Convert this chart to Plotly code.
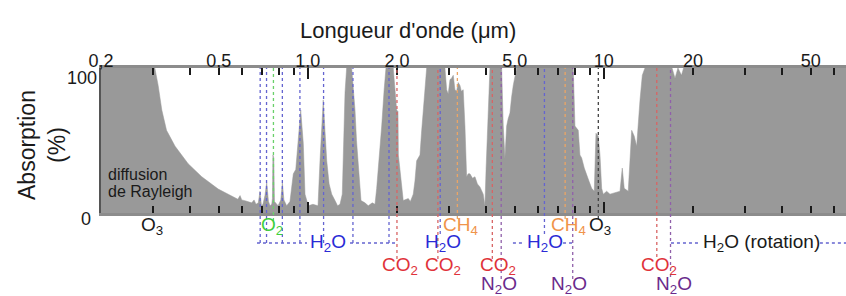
import math
import plotly.graph_objects as go

# ---------------- data ----------------
wavelength_um = [
    0.2, 0.304, 0.312, 0.321, 0.333, 0.356, 0.394, 0.438, 0.498, 0.567, 0.58, 0.59, 0.598,
    0.613, 0.63, 0.646, 0.658, 0.668, 0.68, 0.689, 0.697, 0.705, 0.716, 0.726, 0.736, 0.745,
    0.755, 0.759, 0.762, 0.767, 0.771, 0.793, 0.81, 0.82, 0.83, 0.848, 0.87, 0.893, 0.91,
    0.928, 0.946, 0.955, 0.965, 0.978, 1.003, 1.04, 1.082, 1.099, 1.115, 1.127, 1.14, 1.158,
    1.18, 1.204, 1.235, 1.26, 1.284, 1.307, 1.335, 1.352, 1.406, 1.425, 1.443, 1.46, 1.48,
    1.512, 1.559, 1.6, 1.65, 1.686, 1.708, 1.74, 1.776, 1.81, 1.836, 1.943, 1.995, 2.016,
    2.022, 2.047, 2.08, 2.1, 2.184, 2.22, 2.27, 2.3, 2.331, 2.392, 2.42, 2.454, 2.49, 2.52,
    2.905, 2.944, 2.98, 3.021, 3.06, 3.099, 3.14, 3.182, 3.22, 3.265, 3.3, 3.349, 3.394,
    3.42, 3.439, 3.48, 3.529, 3.6, 3.669, 3.74, 3.814, 3.913, 3.965, 4.0, 4.05, 4.123,
    4.516, 4.572, 4.633, 4.695, 4.75, 4.817, 4.88, 4.942, 5.074, 7.883, 7.988, 8.196, 8.305,
    8.416, 8.588, 8.75, 8.908, 9.097, 9.283, 9.407, 9.576, 9.704, 9.833, 9.956, 10.22,
    10.49, 10.9, 11.34, 11.54, 11.72, 12.09, 12.42, 12.67, 12.91, 13.25, 13.49, 13.77,
    17.0, 17.4, 17.8, 18.3, 18.6, 70.0,
]
absorption_pct = [
    100, 100, 88, 71, 57, 46, 34, 25, 16.5, 10.5, 9.5, 12, 9,
    8.5, 7.5, 7, 9, 6, 7, 15, 5, 6, 12, 21, 8, 5,
    6, 10, 40, 38, 8, 5, 9, 21, 9, 5, 8, 27, 30,
    53, 71, 60, 48, 13, 5, 6, 5, 36, 60, 78, 60, 36,
    20, 13, 8.6, 5, 6, 13, 83, 100, 100, 85, 71, 50, 36,
    8.6, 7, 5, 7, 6, 17, 35, 60, 85, 100, 100, 71, 70,
    40, 30, 15, 8.6, 10, 8, 13, 22, 36, 40, 55, 71, 88, 100,
    100, 85, 82, 92, 93, 95, 85, 84, 90, 88, 84, 85, 60,
    25, 25, 27, 27, 24, 25, 20, 18, 13, 5, 30, 60, 100,
    100, 60, 38, 60, 65, 69, 80, 88, 100, 100, 60, 57, 40,
    38, 31, 27, 22, 17, 15, 55, 53, 40, 17, 13, 15,
    13, 14, 15, 31, 17, 15, 57, 53, 46, 78, 95, 100,
    100, 93, 100, 95, 100, 100,
]

axis_ticks_um = [0.2, 0.3, 0.4, 0.5, 0.6, 0.7, 0.8, 0.9, 1, 2, 3, 4, 5, 6, 7, 8, 9,
                 10, 20, 30, 40, 50, 60]
axis_tick_text = ['0,2', '', '', '0,5', '', '', '', '', '1,0', '2,0', '', '', '5,0', '',
                  '', '', '', '10', '20', '', '', '50', '']
long_ticks_um = [1, 10]
x_max_um = 65.8

# absorption bands marked by dotted lines (gas, wavelength, end row in px)
band_gas = ['H2O', 'H2O', 'H2O', 'H2O', 'H2O', 'H2O', 'H2O', 'O2', 'CO2', 'CO2', 'H2O',
            'CH4', 'CO2', 'N2O', 'H2O', 'CH4', 'N2O', 'O3', 'CO2', 'N2O']
band_um = [0.69, 0.725, 0.82, 0.94, 1.13, 1.42, 1.88, 0.765, 2.0, 2.75, 2.8,
           3.2, 4.2, 4.5, 6.3, 7.4, 7.85, 9.58, 15.1, 16.8]
band_end_px = [243, 243, 243, 243, 243, 243, 243, 221, 259, 259, 234,
               219, 259, 279, 234, 219, 279, 219, 257, 277]

# gas labels below the axis
label_text = ['O<sub>3</sub>', 'O<sub>2</sub>', 'H<sub>2</sub>O', 'CO<sub>2</sub>',
              'CO<sub>2</sub>', 'CH<sub>4</sub>', 'H<sub>2</sub>O', 'CO<sub>2</sub>',
              'N<sub>2</sub>O', 'H<sub>2</sub>O', 'CH<sub>4</sub>', 'O<sub>3</sub>',
              'N<sub>2</sub>O', 'CO<sub>2</sub>', 'N<sub>2</sub>O', 'H<sub>2</sub>O (rotation)']
label_gas = ['O3', 'O2', 'H2O', 'CO2', 'CO2', 'CH4', 'H2O', 'CO2', 'N2O', 'H2O', 'CH4',
             'O3', 'N2O', 'CO2', 'N2O', 'rot']
label_um = [0.297, 0.757, 1.17, 2.05, 2.86, 3.27, 2.86, 4.39, 4.42, 6.32, 7.62, 9.70,
            7.62, 15.36, 17.26, 34.2]
label_row_px = [226, 226, 243, 266, 266, 226, 243, 266, 285, 243, 226, 226, 285, 266, 285, 243]

# dotted H2O connector segments (um)
h2o_link_um = [(0.673, 0.993), (1.388, 2.0), (4.93, 5.41), (7.28, 7.88), (16.86, 21.1),
               (53.7, 66.0)]

# ---------------- styles ----------------
text_color = {'O3': '#1a1a1a', 'O2': '#3ecf3e', 'H2O': '#2a2ad6', 'CO2': '#e0323a',
              'CH4': '#f0944a', 'N2O': '#6a2a8c', 'rot': '#1a1a1a'}
line_color = {'O3': '#444444', 'O2': '#6ad06a', 'H2O': '#6464d0', 'CO2': '#d86464',
              'CH4': '#eba565', 'N2O': '#9060aa'}
FONT = 'Liberation Sans, Arial, Helvetica, sans-serif'

W, H = 846, 296
ML, MR, MT, MB = 101, 0, 68, 83
PW, PH = W - ML - MR, H - MT - MB
BOTTOM = H - MB


def py(p):
    return (BOTTOM - p) / PH


def px(p):
    return (p - ML) / PW


fig = go.Figure()
fig.add_trace(go.Scatter(
    x=wavelength_um, y=absorption_pct, mode='lines', fill='tozeroy',
    fillcolor='#999999', line=dict(color='#999999', width=0.5),
    hoverinfo='skip', showlegend=False))
fig.add_trace(go.Scatter(
    x=[long_ticks_um[0]], y=[0], xaxis='x2', mode='markers',
    marker=dict(opacity=0), hoverinfo='skip', showlegend=False))

shapes = []
for gas, wl, end in zip(band_gas, band_um, band_end_px):
    shapes.append(dict(type='line', xref='x', yref='paper', x0=wl, x1=wl,
                       y0=py(end), y1=1, layer='above',
                       line=dict(color=line_color[gas], width=1.3, dash='dot')))
for a, b in h2o_link_um:
    shapes.append(dict(type='line', xref='x', yref='paper', x0=a, x1=b,
                       y0=py(243), y1=py(243), layer='above',
                       line=dict(color=line_color['H2O'], width=1.3, dash='dot')))

annotations = []
for txt, gas, wl, row in zip(label_text, label_gas, label_um, label_row_px):
    annotations.append(dict(text=txt, xref='x', yref='paper', x=math.log10(wl),
                            y=py(row), xanchor='center', yanchor='middle', showarrow=False,
                            font=dict(family=FONT, size=19, color=text_color[gas])))

annotations += [
    dict(text="Longueur d'onde (\u03bcm)", xref='paper', yref='paper', x=px(408), y=py(31),
         xanchor='center', yanchor='middle', showarrow=False,
         font=dict(family=FONT, size=22, color='#1a1a1a')),
    dict(text='Absorption<br>(%)', xref='paper', yref='paper', x=px(42), y=py(145),
         xanchor='center', yanchor='middle', textangle=-90, showarrow=False,
         font=dict(family=FONT, size=23, color='#1a1a1a')),
    dict(text='100', xref='paper', yref='paper', x=px(99), y=py(78),
         xanchor='right', yanchor='middle', showarrow=False,
         font=dict(family=FONT, size=18, color='#1a1a1a')),
    dict(text='0', xref='paper', yref='paper', x=px(93), y=py(219),
         xanchor='right', yanchor='middle', showarrow=False,
         font=dict(family=FONT, size=18, color='#1a1a1a')),
    dict(text='diffusion', xref='paper', yref='paper', x=px(106), y=py(174),
         xanchor='left', yanchor='middle', showarrow=False,
         font=dict(family=FONT, size=16, color='#1a1a1a')),
    dict(text='de Rayleigh', xref='paper', yref='paper', x=px(106), y=py(191),
         xanchor='left', yanchor='middle', showarrow=False,
         font=dict(family=FONT, size=16, color='#1a1a1a')),
]

xrange = [math.log10(axis_ticks_um[0]), math.log10(x_max_um)]
fig.update_layout(
    width=W, height=H, margin=dict(l=ML, r=MR, t=MT, b=MB, pad=0, autoexpand=False),
    paper_bgcolor='white', plot_bgcolor='white', showlegend=False,
    font=dict(family=FONT, color='#1a1a1a'),
    xaxis=dict(type='log', range=xrange, side='top', anchor='y', automargin=False,
               tickmode='array', tickvals=axis_ticks_um, ticktext=axis_tick_text,
               ticks='inside', ticklen=7, tickwidth=2, tickcolor='#1a1a1a',
               tickfont=dict(family=FONT, size=18, color='#1a1a1a'),
               showline=True, linecolor='#8c8c8c', linewidth=3, mirror='ticks',
               showgrid=False, zeroline=False),
    xaxis2=dict(type='log', range=xrange, overlaying='x', side='bottom', anchor='y',
                tickmode='array', tickvals=long_ticks_um, ticks='inside', ticklen=11,
                tickwidth=2, tickcolor='#1a1a1a', mirror='ticks', showticklabels=False,
                showline=False, showgrid=False, zeroline=False, automargin=False),
    yaxis=dict(range=[0, 100], showticklabels=False, ticks='', showgrid=False,
               zeroline=False, showline=True, linecolor='#555555', linewidth=2,
               automargin=False),
    shapes=shapes, annotations=annotations,
)

# bring the top tick labels closer to the axis line, as in the reference
try:
    fig.update_xaxes(ticklabelstandoff=-9, selector=dict(side='top'))
except Exception:
    pass

fig.write_html(
    'out.html',
    config={'displayModeBar': False, 'staticPlot': True},
    post_script="document.body.style.margin='0';document.body.style.padding='0';"
                "document.documentElement.style.overflow='hidden';",
)
